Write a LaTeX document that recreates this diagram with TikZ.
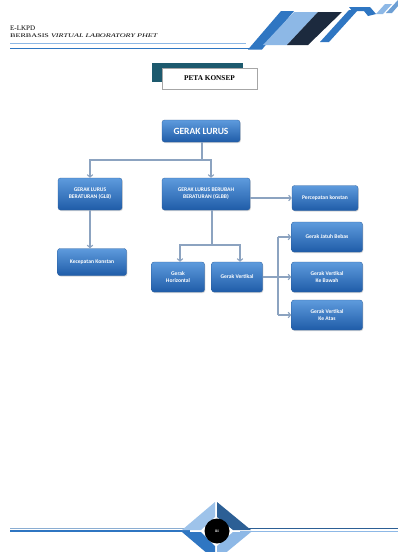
\documentclass[tikz,border=0pt]{standalone}
\usepackage{fontspec}
\setmainfont{Liberation Serif}
\newfontfamily\boxfont{Carlito}
\usetikzlibrary{arrows.meta,shadows}
\definecolor{bt}{HTML}{5E9BDD}
\definecolor{bb}{HTML}{1F5CA8}
\definecolor{be}{HTML}{2A5E9E}
\definecolor{conn}{HTML}{8CA3C0}
\definecolor{hblue}{HTML}{2F76C2}
\definecolor{hlight}{HTML}{8DB8E6}
\definecolor{hnavy}{HTML}{1C2A3E}
\definecolor{hdark}{HTML}{2C5F95}
\definecolor{teal}{HTML}{1D5A6E}
\begin{document}
\begin{tikzpicture}[x=1pt,y=-1pt,
  gbox/.style={rounded corners=2.5pt, top color=bt, bottom color=bb, draw=be, line width=0.3pt,
    text=white, font=\boxfont\bfseries\fontsize{5.6}{7}\selectfont, align=center, inner sep=1pt,
    drop shadow={opacity=0.3,shadow xshift=0.8pt,shadow yshift=-1pt}},
  conn/.style={draw=conn, line width=1.1pt},
  arr/.style={conn, -{Straight Barb[length=2.5pt,width=5.5pt]}}]
\useasboundingbox[fill=white] (0,0) rectangle (398,552);

% header
\node[anchor=base west, inner sep=0, font=\fontsize{7}{8}\selectfont] (t1) at (10,30.5) {E-LKPD};
\node[anchor=base west, inner sep=0, font=\fontsize{5.6}{7}\selectfont] (t2) at (10,37) {\scalebox{1.45}[1]{BERBASIS \textit{VIRTUAL LABORATORY PHET}}};
\draw[hlight, line width=0.8pt] (10,43.5) -- (246,43.5);
\draw[hblue, line width=1.6pt] (10,48.5) -- (254,48.5);
\fill[hblue] (248,49.5) -- (262,49.5) -- (294,11) -- (281,11) -- cycle;
\fill[hlight] (263,45) -- (287,45) -- (318,12) -- (294,12) -- cycle;
\fill[hnavy] (287,45) -- (308,45) -- (342,12) -- (318,12) -- cycle;
\fill[hblue] (320,42) -- (329,42) -- (358,10) -- (349,10) -- cycle;
\fill[hblue] (349,7) -- (370,7) -- (376,14) -- (368,16) -- (364,11) -- (352,11) -- cycle;
\fill[hlight] (376,14) -- (383,14) -- (392,4) -- (385,4) -- cycle;
\fill[hblue!70] (386,13) -- (392,13) -- (398,6) -- (398,0) -- cycle;

% PETA KONSEP title
\fill[teal] (152,63) rectangle (243,82);
\node[draw=gray!70, line width=0.6pt, fill=white, minimum width=95pt, minimum height=21pt, inner sep=0,
  font=\bfseries\fontsize{7.3}{8}\selectfont, drop shadow={opacity=0.25,shadow xshift=0.8pt,shadow yshift=-0.8pt}] (pk0) at (209.5,78.5) {PETA KONSEP};

% concept map boxes
\node[gbox, minimum width=78pt, minimum height=22pt, font=\boxfont\bfseries\fontsize{9.5}{10}\selectfont] (gl) at (201,131) {GERAK LURUS};
\node[gbox, minimum width=64pt, minimum height=32pt] (glb) at (90,194) {GERAK LURUS\\BERATURAN (GLB)};
\node[gbox, minimum width=88pt, minimum height=32pt] (glbb) at (206,194) {GERAK LURUS BERUBAH\\BERATURAN (GLBB)};
\node[gbox, minimum width=66pt, minimum height=25pt] (pk) at (325,198) {Percepatan konstan};
\node[gbox, minimum width=69pt, minimum height=27pt] (kk) at (92,262) {Kecepatan Konstan};
\node[gbox, minimum width=53pt, minimum height=30pt] (gh) at (178,277) {Gerak\\Horizontal};
\node[gbox, minimum width=51pt, minimum height=30pt] (gv) at (237,277) {Gerak Vertikal};
\node[gbox, minimum width=71pt, minimum height=30pt] (gjb) at (327,237) {Gerak Jatuh Bebas};
\node[gbox, minimum width=71pt, minimum height=30pt] (gvb) at (327,277) {Gerak Vertikal\\Ke Bawah};
\node[gbox, minimum width=71pt, minimum height=30pt] (gva) at (327,315) {Gerak Vertikal\\Ke Atas};

% connectors
\coordinate (b1) at (202,160);
\coordinate (b2) at (212,245);
\coordinate (b3) at (278,277);
\draw[conn] ([xshift=1pt]gl.south) -- (b1);
\draw[arr] (b1) -| (glb.north);
\draw[arr] (b1) -| ([xshift=5pt]glbb.north);
\draw[arr] (glb.south) -- (glb.south |- kk.north);
\draw[arr] (glbb.east |- pk.west) -- (pk.west);
\draw[conn] ([xshift=6pt]glbb.south) -- (b2);
\draw[arr] (b2) -| ([xshift=2pt]gh.north);
\draw[arr] (b2) -| ([xshift=3pt]gv.north);
\draw[conn] (gv.east) -- (b3);
\draw[conn] (b3 |- gjb.west) -- (b3 |- gva.west);
\draw[arr] (b3 |- gjb.west) -- (gjb.west);
\draw[arr] (b3) -- (gvb.west);
\draw[arr] (b3 |- gva.west) -- (gva.west);

% footer
\draw[hlight!80!gray, line width=0.8pt] (10,528) -- (190,528);
\draw[hblue, line width=1.2pt] (10,531) -- (190,531);
\draw[hdark, line width=1.6pt] (240,528.5) -- (398,528.5);
\draw[hlight, line width=0.8pt] (240,531.5) -- (398,531.5);
\fill[hlight!85] (182,530) -- (215,502) -- (215,517) -- (201,530) -- cycle;
\fill[hdark] (217,502) -- (251,530) -- (233,530) -- (217,517) -- cycle;
\fill[hlight] (251,532) -- (217,560) -- (217,546) -- (233,532) -- cycle;
\fill[hblue] (215,560) -- (182,532) -- (201,532) -- (215,546) -- cycle;
\node[circle, fill=black, minimum size=25pt, inner sep=0, text=white, font=\bfseries\fontsize{4}{4}\selectfont] (pg) at (217,531) {iii};
\end{tikzpicture}
\end{document}
